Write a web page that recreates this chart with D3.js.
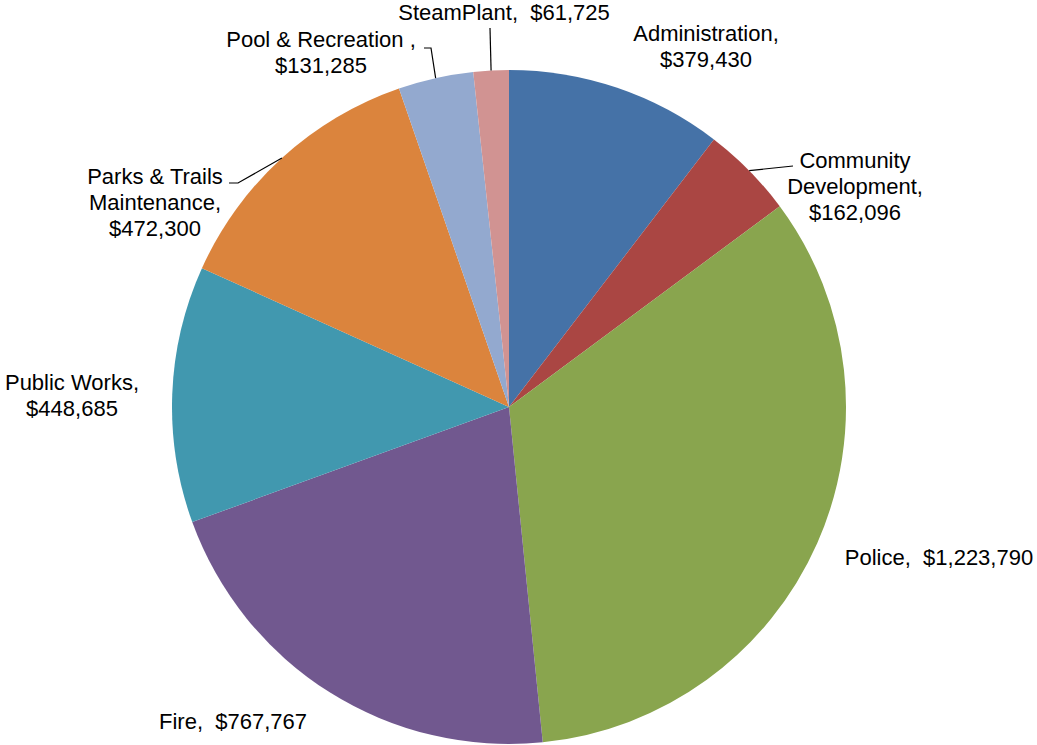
<!DOCTYPE html>
<html>
<head>
<meta charset="utf-8">
<script src="https://cdn.jsdelivr.net/npm/d3@7"></script>
<style>
  html, body { margin: 0; padding: 0; background: #fff; }
  svg { display: block; }
  text { font-family: "Liberation Sans", Arial, sans-serif; font-size: 22px; fill: #000; }
</style>
</head>
<body>
<svg id="chart" width="1037" height="745"></svg>
<script>
// Department budgets, clockwise from 12 o'clock
const departments = ["Administration", "Community Development", "Police", "Fire",
                     "Public Works", "Parks & Trails Maintenance", "Pool & Recreation", "SteamPlant"];
const budgets = [379430, 162096, 1223790, 767767, 448685, 472300, 131285, 61725];
const labelLines = [
  ["Administration,", "$379,430"],
  ["Community", "Development,", "$162,096"],
  ["Police,  $1,223,790"],
  ["Fire,  $767,767"],
  ["Public Works,", "$448,685"],
  ["Parks & Trails", "Maintenance,", "$472,300"],
  ["Pool & Recreation ,", "$131,285"],
  ["SteamPlant,  $61,725"]
];
const sliceColors = ["#4572A7", "#AA4643", "#89A54E", "#71588F",
                     "#4198AF", "#DB843D", "#93A9CF", "#D19392"];

// Label placement: text centre x, first baseline y
const labelPos = [
  [706, 41], [855, 168], [939, 565], [233, 729],
  [72, 390], [155, 184], [321, 47], [504, 20]
];
// Leader-line bends (outer points), null where no leader is drawn
const leaderBends = [
  null,
  [[793, 166]],
  null, null, null,
  [[238, 183], [229, 183]],
  [[431, 48], [424, 48]],
  [[490, 28]]
];

const cx = 509, cy = 407, radius = 337;
const svg = d3.select("#chart");
const g = svg.append("g").attr("transform", `translate(${cx},${cy})`);

const data = departments.map((d, i) => ({ name: d, value: budgets[i], i }));
const pie = d3.pie().value(d => d.value).sort(null);
const arcs = pie(data);
const arc = d3.arc().innerRadius(0).outerRadius(radius);

g.selectAll("path.slice")
  .data(arcs)
  .join("path")
  .attr("class", "slice")
  .attr("d", arc)
  .attr("fill", d => sliceColors[d.data.i]);

// Leader lines from the slice's outer edge midpoint
arcs.forEach(a => {
  const bends = leaderBends[a.data.i];
  if (!bends) return;
  const mid = (a.startAngle + a.endAngle) / 2;
  const start = [cx + radius * Math.sin(mid), cy - radius * Math.cos(mid)];
  svg.append("path")
    .attr("d", d3.line()([start, ...bends]))
    .attr("fill", "none")
    .attr("stroke", "#000")
    .attr("stroke-width", 1.2);
});

// Labels
arcs.forEach(a => {
  const [x, y] = labelPos[a.data.i];
  const t = svg.append("text").attr("text-anchor", "middle").attr("x", x).attr("y", y);
  labelLines[a.data.i].forEach((line, k) => {
    t.append("tspan").attr("x", x).attr("y", y + k * 26).text(line)
      .attr("xml:space", "preserve").style("white-space", "pre");
  });
});
</script>
</body>
</html>
